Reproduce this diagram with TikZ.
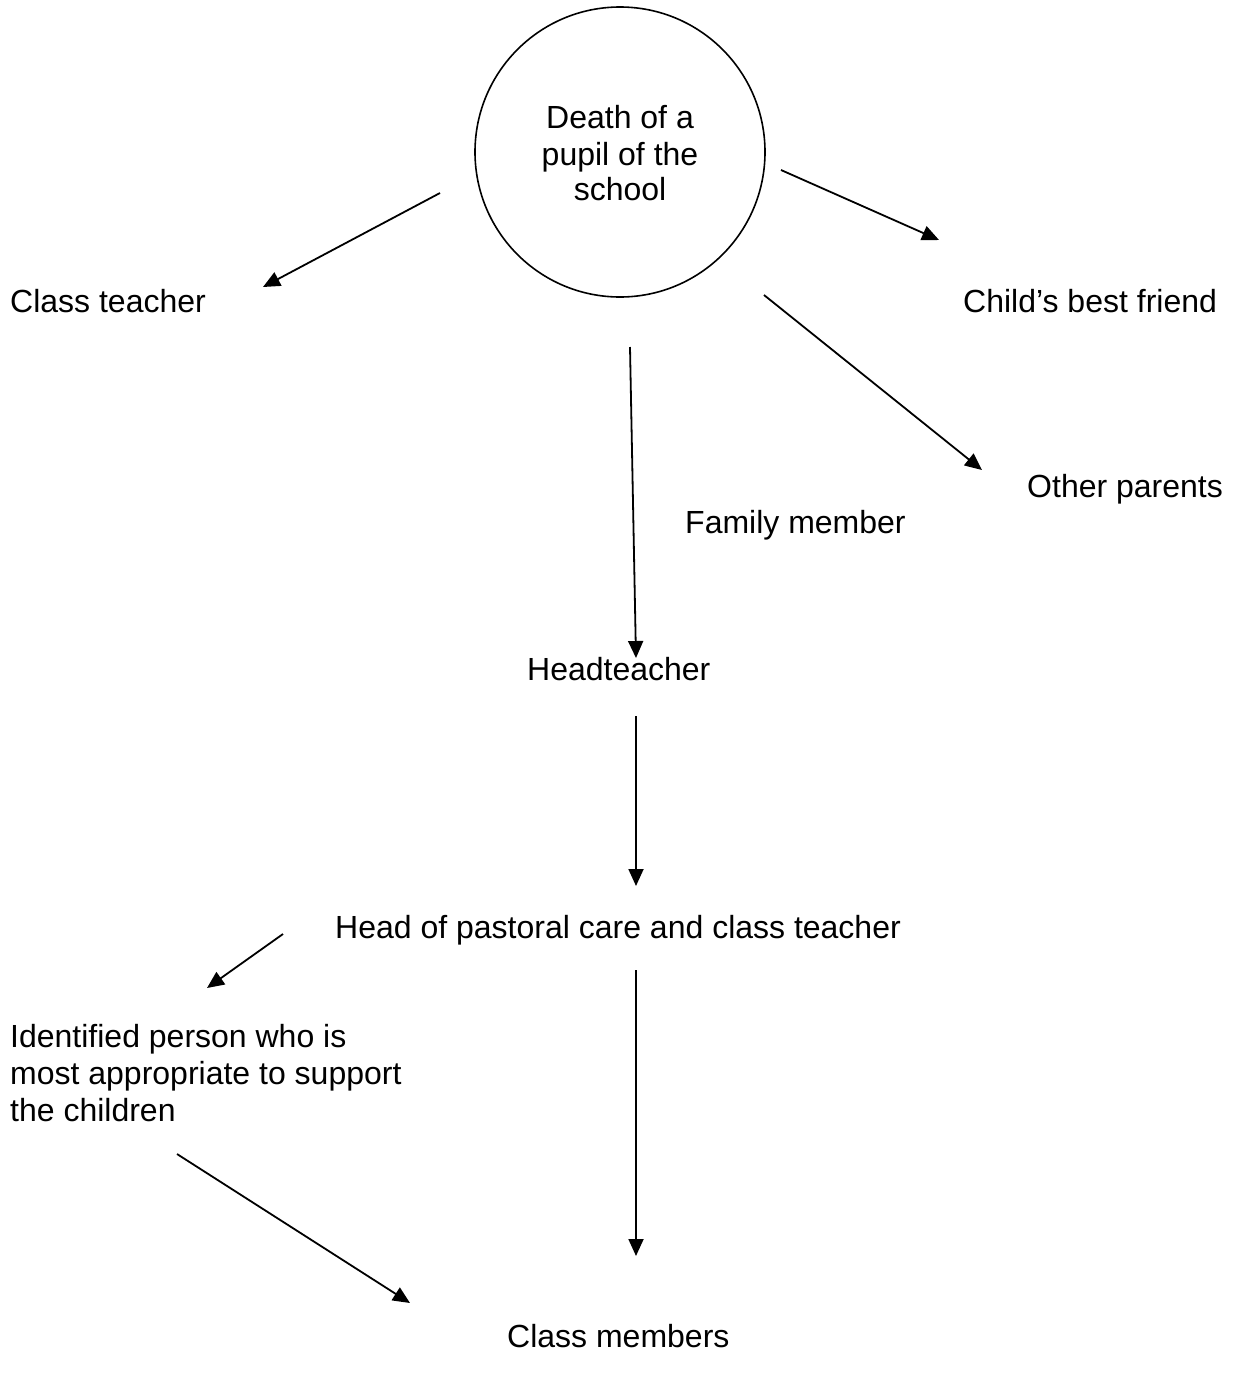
\documentclass[tikz,border=0pt]{standalone}
\usepackage{fontspec}
\setmainfont{Liberation Sans}
\usetikzlibrary{arrows.meta}
\begin{document}
\begin{tikzpicture}[x=1pt,y=-1pt,
  lbl/.style={inner sep=0pt,font=\fontsize{32}{37}\selectfont},
  conn/.style={line width=1.8pt,-{Triangle[length=17pt,width=15pt]}}]
\useasboundingbox (0,0) rectangle (1233,1382);
% central circle
\node[draw,line width=1.6pt,circle,minimum size=290pt,inner sep=0pt] (death) at (620,152) {};
\node[lbl,anchor=base] (t1) at (620,128) {Death of a};
\node[lbl,anchor=base] (t2) at (620,165) {pupil of the};
\node[lbl,anchor=base] (t3) at (620,200) {school};
% labels
\node[lbl,anchor=base west] (ct) at (10,312) {Class teacher};
\node[lbl,anchor=base west] (bf) at (963,312) {Child’s best friend};
\node[lbl,anchor=base west] (op) at (1027,497) {Other parents};
\node[lbl,anchor=base west] (fm) at (685,533) {Family member};
\node[lbl,anchor=base west] (ht) at (527,680) {Headteacher};
\node[lbl,anchor=base west] (hp) at (335,938) {Head of pastoral care and class teacher};
\node[lbl,anchor=base west,align=left] (ip) at (10,1121) {Identified person who is\\most appropriate to support\\the children};
\node[lbl,anchor=base west] (cm) at (507,1347) {Class members};
% connector end points
\coordinate (a1s) at (440,193); \coordinate (a1e) at (263,287);
\coordinate (a2s) at (781,170); \coordinate (a2e) at (939,240);
\coordinate (a3s) at (630,347); \coordinate (a3e) at (636,658);
\coordinate (a4s) at (764,295); \coordinate (a4e) at (982,470);
\coordinate (a5s) at (636,716); \coordinate (a5e) at (636,886);
\coordinate (a6s) at (283,934); \coordinate (a6e) at (207,988);
\coordinate (a7s) at (636,970); \coordinate (a7e) at (636,1256);
\coordinate (a8s) at (177,1154); \coordinate (a8e) at (410,1303);
\draw[conn] (a1s) -- (a1e);
\draw[conn] (a2s) -- (a2e);
\draw[conn] (a3s) -- (a3e);
\draw[conn] (a4s) -- (a4e);
\draw[conn] (a5s) -- (a5e);
\draw[conn] (a6s) -- (a6e);
\draw[conn] (a7s) -- (a7e);
\draw[conn] (a8s) -- (a8e);
\end{tikzpicture}
\end{document}
